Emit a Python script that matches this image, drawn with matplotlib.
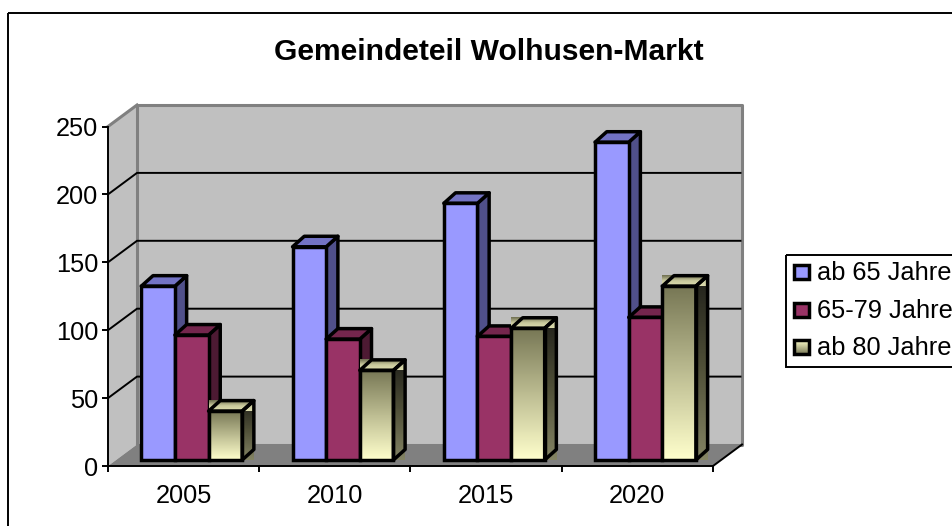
import numpy as np
import matplotlib
matplotlib.use("Agg")
import matplotlib.pyplot as plt
from matplotlib.colors import LinearSegmentedColormap
from matplotlib.patches import Polygon, Rectangle

plt.rcParams['font.family'] = ['Liberation Sans', 'DejaVu Sans']

# Daten
title = "Gemeindeteil Wolhusen-Markt"
years = ["2005", "2010", "2015", "2020"]
series_names = ["ab 65 Jahre", "65-79 Jahre", "ab 80 Jahre"]
ab_65 = [128, 157, 189, 234]
j65_79 = [92, 89, 91, 105]
ab_80 = [36, 66, 97, 128]
y_ticks = [0, 50, 100, 150, 200, 250]

W, H = 953, 526
fig = plt.figure(figsize=(W / 100, H / 100), dpi=100)

# Vorderkante der Achse in Pixeln
x_left, x_right, y_bottom, y_top = 108, 713, 466, 126.5
ax = fig.add_axes([x_left / W, 1 - y_bottom / H, (x_right - x_left) / W, (y_bottom - y_top) / H])
ax.set_zorder(2)

px_x = 4 / (x_right - x_left)
px_y = 250 / (y_bottom - y_top)
# Tiefe des 3D-Raums in Datenkoordinaten
DX = 29 * px_x
DY = 21.5 * px_y
# Tiefe der Saeulen
BX = 11.7 * px_x
BY = 10.5 * px_y


def proj(x, y, d):
    return x + d * DX, y + d * DY


LW_BAR = 2.5
LW_GRID = 1.4

# Waende und Boden
ax.add_patch(Polygon([proj(0, 0, 1), proj(4, 0, 1), proj(4, 250, 1), proj(0, 250, 1)],
                     fc="#C0C0C0", ec="none", clip_on=False, zorder=1))
ax.add_patch(Polygon([proj(0, 0, 0), proj(0, 0, 1), proj(0, 250, 1), proj(0, 250, 0)],
                     fc="#C0C0C0", ec="none", clip_on=False, zorder=1))
ax.add_patch(Polygon([proj(0, 0, 0), proj(4, 0, 0), proj(4, 0, 1), proj(0, 0, 1)],
                     fc="#808080", ec="none", clip_on=False, zorder=1))
edge = [proj(0, 0, 1), proj(0, 250, 1), proj(4, 250, 1), proj(4, 0, 1), proj(0, 0, 1)]
ax.plot(*zip(*edge), color="#808080", lw=2.2, clip_on=False, zorder=1.5)
ax.plot(*zip(proj(0, 250, 0), proj(0, 250, 1)), color="#808080", lw=2.2, clip_on=False, zorder=1.5)

for v in y_ticks[1:-1]:
    pts = [proj(0, v, 0), proj(0, v, 1), proj(3.99, v, 1)]
    ax.plot(*zip(*pts), color="black", lw=LW_GRID, clip_on=False, zorder=2)
ax.plot(*zip(proj(4, 0, 0), proj(4, 0, 1)), color="black", lw=LW_GRID, clip_on=False, zorder=2)

cmap_front = LinearSegmentedColormap.from_list("front", ["#FFFFCC", "#BDBD92", "#777755"])
cmap_side = LinearSegmentedColormap.from_list("side", ["#848464", "#505038", "#20201A"])
cmap_top = LinearSegmentedColormap.from_list("top", ["#DEDEB0", "#C8C89C", "#6E6E50"])
ramp = np.linspace(0, 1, 128).reshape(-1, 1)

solid = {0: ("#9999FF", "#50508A", "#7373C4"), 1: ("#993366", "#4D1A33", "#74264D")}

D0 = 0.28
bar_w = 1 / 4.5


def draw_bar(x0, value, series, z):
    x1 = x0 + bar_w
    fl, ft = proj(x0, 0, D0), proj(x1, value, D0)
    side = [(ft[0], fl[1]), (ft[0] + BX, fl[1] + BY), (ft[0] + BX, ft[1] + BY), ft]
    top = [(fl[0], ft[1]), ft, (ft[0] + BX, ft[1] + BY), (fl[0] + BX, ft[1] + BY)]
    if series == 2:
        # Verlauf wie im Original rechteckig, nicht auf die Flaeche beschnitten
        ax.imshow(ramp, cmap=cmap_side, origin="lower", aspect="auto", clip_on=False, zorder=z,
                  extent=(side[0][0], side[1][0], side[0][1], side[2][1]))
        ax.imshow(ramp, cmap=cmap_top, origin="lower", aspect="auto", clip_on=False, zorder=z,
                  extent=(top[0][0], top[2][0], top[0][1], top[2][1]))
        ax.imshow(ramp, cmap=cmap_front, origin="lower", aspect="auto", clip_on=False, zorder=z,
                  extent=(fl[0], ft[0], fl[1], ft[1]))
        colors = ("none", "none", "none")
    else:
        colors = solid[series]
    ax.add_patch(Polygon(side, fc=colors[1], ec="black", lw=LW_BAR, clip_on=False, zorder=z,
                         joinstyle="round"))
    ax.add_patch(Polygon(top, fc=colors[2], ec="black", lw=LW_BAR, clip_on=False, zorder=z,
                         joinstyle="round"))
    ax.add_patch(Rectangle(fl, ft[0] - fl[0], ft[1] - fl[1], fc=colors[0], ec="black", lw=LW_BAR,
                           clip_on=False, zorder=z, joinstyle="miter"))


z = 3
for i in range(len(years)):
    for s, vals in enumerate([ab_65, j65_79, ab_80]):
        draw_bar(i + 0.5 - 1.5 * bar_w + s * bar_w, vals[i], s, z)
        z += 0.1

ax.set_xlim(0, 4)
ax.set_ylim(0, 250)
ax.patch.set_visible(False)
for name in ["top", "right"]:
    ax.spines[name].set_visible(False)
for name in ["left", "bottom"]:
    ax.spines[name].set_linewidth(LW_GRID)
    ax.spines[name].set_zorder(2.5)
ax.set_yticks(y_ticks)
ax.set_xticks(range(5))
ax.set_xticklabels([])
ax.set_xticks([i + 0.5 for i in range(4)], minor=True)
ax.set_xticklabels(years, minor=True)
ax.tick_params(axis="x", which="major", length=4.5, width=LW_GRID)
ax.tick_params(axis="x", which="minor", length=0, pad=13, labelsize=18.3)
ax.tick_params(axis="y", length=4.5, width=LW_GRID, pad=2.5, labelsize=18.3)

# Titel, Rahmen, Legende in Pixeln der Abbildung
ov = fig.add_axes([0, 0, 1, 1], zorder=5)
ov.set_xlim(0, W)
ov.set_ylim(H, 0)
ov.axis("off")
ov.patch.set_visible(False)
ov.add_patch(Rectangle((8.5, 12.5), W + 10, H + 10, fc="none", ec="black", lw=1.4))
ov.text(489, 52, title, ha="center", va="center", fontsize=21.6, fontweight="bold")

ov.add_patch(Rectangle((786.5, 254.5), W, 112, fc="none", ec="black", lw=1.4))
for s, (name, yc) in enumerate(zip(series_names, [272, 310, 347])):
    if s == 2:
        ov.imshow(ramp, cmap=cmap_front, origin="upper", aspect="auto", zorder=1,
                  extent=(794, 809, yc + 7, yc - 7))
        fc = "none"
    else:
        fc = solid[s][0]
    ov.add_patch(Rectangle((794, yc - 7), 15, 14, fc=fc, ec="black", lw=LW_BAR, zorder=2))
    ov.text(817, yc + 1, name, ha="left", va="center", fontsize=18.3)
ov.set_xlim(0, W)
ov.set_ylim(H, 0)

fig.savefig("out.png", dpi=100)
